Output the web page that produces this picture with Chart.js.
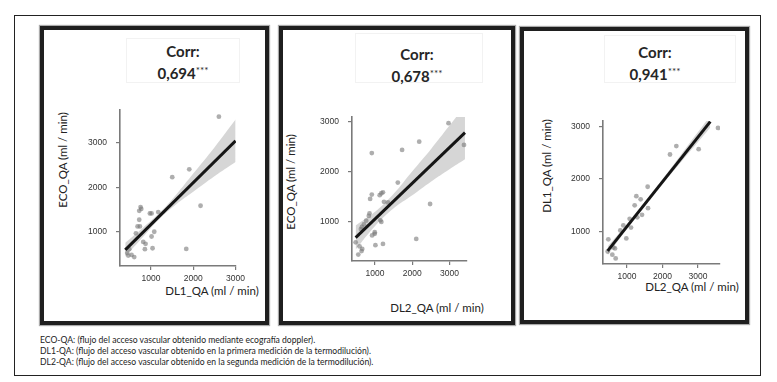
<!DOCTYPE html>
<html>
<head>
<meta charset="utf-8">
<script src="https://cdn.jsdelivr.net/npm/chart.js@4.4.1/dist/chart.umd.min.js"></script>
<style>
  body { margin: 0; background: #fff; width: 777px; height: 382px; position: relative; overflow: hidden; font-family: Lato, "Open Sans", sans-serif; color: #222; }
  .frame { position: absolute; left: 14px; top: 15px; width: 747px; height: 361px; border: 1.5px solid #222; box-sizing: border-box; }
  .panel { position: absolute; border: 4px solid #1f1f1f; box-sizing: border-box; box-shadow: 0 0 1px 1px #aaa; }
  .box { position: absolute; border: 1px solid #f2f2f2; box-sizing: border-box; }
  .corr { position: absolute; transform: translateX(-50%); text-align: center; font-weight: bold; font-size: 15px; line-height: 19px; color: #262626; white-space: nowrap; }
  .corr sup { font-size: 10px; font-weight: normal; vertical-align: 5px; }
  .ytitle { position: absolute; transform: translate(-50%, -50%) rotate(-90deg); font-size: 11.5px; white-space: nowrap; color: #222; }
  .xtitle { position: absolute; transform: translate(-50%, -50%); font-size: 11.5px; white-space: nowrap; color: #222; }
  canvas { position: absolute; }
  .notes { position: absolute; left: 40px; top: 335px; font-size: 8.6px; line-height: 11.2px; color: #222; }
</style>
</head>
<body>
<div class="frame"></div>

<div class="panel" style="left:40px;top:26px;width:229px;height:299px;"></div>
<div class="panel" style="left:279px;top:26px;width:236px;height:299px;"></div>
<div class="panel" style="left:520px;top:27px;width:229px;height:297px;"></div>

<div class="box" style="left:126px;top:38px;width:114px;height:45px;"></div>
<div class="box" style="left:355px;top:33px;width:128px;height:50px;"></div>
<div class="box" style="left:604px;top:35px;width:132px;height:48px;"></div>

<div class="corr" style="left:183px;top:42px;">Corr:<br>0,694<sup>***</sup></div>
<div class="corr" style="left:417px;top:45px;">Corr:<br>0,678<sup>***</sup></div>
<div class="corr" style="left:655px;top:43px;">Corr:<br>0,941<sup>***</sup></div>

<div class="ytitle" style="left:62px;top:160px;">ECO_QA (ml / min)</div>
<div class="ytitle" style="left:290px;top:182px;">ECO_QA (ml / min)</div>
<div class="ytitle" style="left:546px;top:166px;">DL1_QA (ml / min)</div>

<div class="xtitle" style="left:212px;top:290px;">DL1_QA (ml / min)</div>
<div class="xtitle" style="left:437px;top:307px;">DL2_QA (ml / min)</div>
<div class="xtitle" style="left:692px;top:286px;">DL2_QA (ml / min)</div>

<canvas id="c1"></canvas>
<canvas id="c2"></canvas>
<canvas id="c3"></canvas>

<div class="notes">
ECO-QA: (flujo del acceso vascular obtenido mediante ecografía doppler).<br>
DL1-QA: (flujo del acceso vascular obtenido en la primera medición de la termodilución).<br>
DL2-QA: (flujo del acceso vascular obtenido en la segunda medición de la termodilución).
</div>

<script>
// --- data ---
// panel 1: DL1 (x) vs ECO (y)
const p1X = [2606, 1906, 1504, 2173, 1835, 756, 772, 724, 976, 1016, 1173, 724, 685, 740, 1079, 646, 1016, 819, 874, 858, 1039, 488, 465, 543, 606, 441];
const p1Y = [3593, 2407, 2229, 1586, 614, 1557, 1514, 1471, 1414, 1414, 1443, 1271, 1121, 1121, 1000, 964, 893, 771, 729, 607, 629, 607, 464, 479, 429, 521];
const p1FitX = [394, 3000];
const p1FitY = [593, 3050];
const p1BandX = [394, 800, 1200, 1600, 2000, 2500, 3000];
const p1BandLo = [440, 870, 1290, 1620, 1900, 2250, 2570];
const p1BandHi = [750, 1080, 1420, 1840, 2310, 2900, 3530];

// panel 2: DL2 (x) vs ECO (y)
const p2X = [2973, 2186, 1726, 3389, 912, 1611, 2478, 912, 867, 1124, 1168, 1212, 1239, 1345, 850, 832, 761, 699, 646, 619, 1142, 1168, 991, 920, 991, 1009, 1212, 2106, 478, 584, 655, 637, 549];
const p2Y = [2969, 2599, 2436, 2536, 2373, 1784, 1357, 1545, 1458, 1533, 1571, 1589, 1401, 1389, 1169, 1119, 1025, 950, 900, 856, 1031, 1000, 793, 730, 762, 536, 561, 661, 592, 511, 461, 417, 348];
const p2FitX = [478, 3416];
const p2FitY = [687, 2781];
const p2BandX = [478, 1000, 1500, 2000, 2500, 3000, 3416];
const p2BandLo = [450, 920, 1270, 1530, 1800, 2050, 2250];
const p2BandHi = [930, 1200, 1560, 2010, 2450, 2920, 3320];

// panel 3: DL2 (x) vs DL1 (y)
const p3X = [3563, 3019, 2390, 2211, 1582, 1263, 1385, 1216, 1592, 1423, 1291, 1075, 1113, 897, 812, 981, 474, 615, 662, 455, 587, 681];
const p3Y = [2970, 2564, 2624, 2463, 1848, 1669, 1609, 1493, 1439, 1313, 1266, 1236, 1069, 1110, 1015, 863, 845, 690, 672, 612, 552, 481];
const p3FitX = [455, 3347];
const p3FitY = [624, 3090];
const p3BandX = [455, 1000, 1500, 2000, 2500, 3000, 3347];
const p3BandLo = [540, 1050, 1490, 1900, 2300, 2700, 2980];
const p3BandHi = [710, 1140, 1560, 1990, 2440, 2890, 3200];

const tickVals = [1000, 2000, 3000];

function pts(xs, ys) {
    return xs.map((x, i) => ({ x: x, y: ys[i] }));
}

// plot box = where the axis lines sit on the page
function makeScatter(id, plot, ranges, series) {
    const yAxisW = 36, xAxisH = 24, padTop = 6, padRight = 14;
    const canvas = document.getElementById(id);
    const w = plot.right - plot.left + yAxisW + padRight;
    const h = plot.bottom - plot.top + xAxisH + padTop;
    canvas.style.left = (plot.left - yAxisW) + 'px';
    canvas.style.top = (plot.top - padTop) + 'px';
    canvas.style.width = w + 'px';
    canvas.style.height = h + 'px';
    canvas.width = w;
    canvas.height = h;

    const axisCommon = {
        type: 'linear',
        border: { display: true, color: '#7a7a7a', width: 1.6 },
        grid: { display: true, drawOnChartArea: false, drawTicks: true, tickLength: 4, color: '#7a7a7a', lineWidth: 1.2 },
        afterBuildTicks: s => { s.ticks = tickVals.map(v => ({ value: v })); },
        ticks: {
            color: '#333',
            font: { family: 'Liberation Sans', size: 8.5 },
            callback: v => String(v)
        }
    };

    return new Chart(canvas, {
        type: 'scatter',
        data: {
            datasets: [
                {
                    type: 'line', data: pts(series.bandX, series.bandLo), borderWidth: 0,
                    pointRadius: 0, fill: false, order: 4, tension: 0.4
                },
                {
                    type: 'line', data: pts(series.bandX, series.bandHi), borderWidth: 0,
                    pointRadius: 0, fill: '-1', backgroundColor: 'rgba(200,200,200,0.75)', order: 3, tension: 0.4
                },
                {
                    data: pts(series.x, series.y), pointRadius: 2.4, borderWidth: 0,
                    backgroundColor: 'rgba(120,120,120,0.6)', order: 2
                },
                {
                    type: 'line', data: pts(series.fitX, series.fitY), borderColor: '#151515',
                    borderWidth: 3, pointRadius: 0, fill: false, order: 1
                }
            ]
        },
        options: {
            responsive: false,
            animation: false,
            layout: { padding: { top: padTop, right: padRight, left: 0, bottom: 0 } },
            plugins: { legend: { display: false }, tooltip: { enabled: false } },
            scales: {
                x: Object.assign({}, axisCommon, {
                    min: ranges.xmin, max: ranges.xmax,
                    afterFit: s => { s.height = xAxisH; },
                    ticks: Object.assign({}, axisCommon.ticks, { padding: 4, maxRotation: 0 })
                }),
                y: Object.assign({}, axisCommon, {
                    min: ranges.ymin, max: ranges.ymax,
                    afterFit: s => { s.width = yAxisW; },
                    ticks: Object.assign({}, axisCommon.ticks, { padding: 9 })
                })
            }
        }
    });
}

makeScatter('c1', { left: 120, right: 236, top: 102, bottom: 266 },
    { xmin: 270, xmax: 3010, ymin: 229, ymax: 3740 },
    { x: p1X, y: p1Y, fitX: p1FitX, fitY: p1FitY, bandX: p1BandX, bandLo: p1BandLo, bandHi: p1BandHi });

makeScatter('c2', { left: 352, right: 467, top: 109, bottom: 261 },
    { xmin: 380, xmax: 3470, ymin: 220, ymax: 3090 },
    { x: p2X, y: p2Y, fitX: p2FitX, fitY: p2FitY, bandX: p2BandX, bandLo: p2BandLo, bandHi: p2BandHi });

makeScatter('c3', { left: 603, right: 720, top: 113, bottom: 264 },
    { xmin: 324, xmax: 3620, ymin: 375, ymax: 3100 },
    { x: p3X, y: p3Y, fitX: p3FitX, fitY: p3FitY, bandX: p3BandX, bandLo: p3BandLo, bandHi: p3BandHi });
</script>
</body>
</html>
